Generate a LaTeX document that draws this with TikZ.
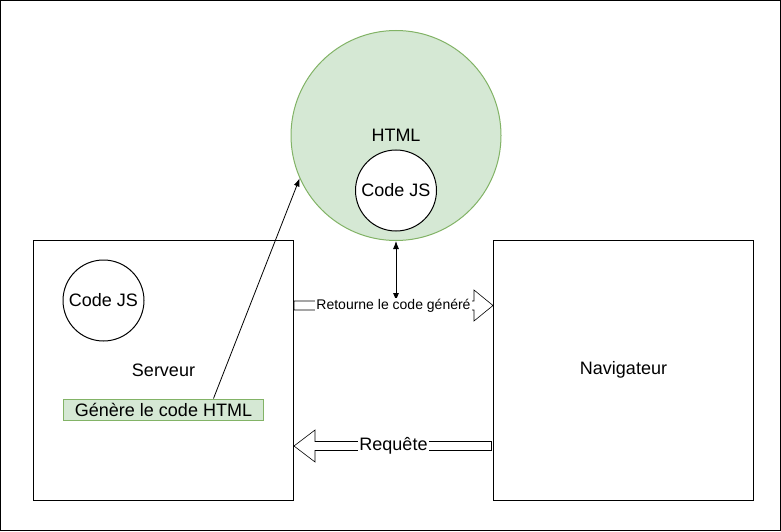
\documentclass[tikz,border=0pt]{standalone}
\usepackage{fontspec}
\setmainfont{Liberation Sans}
\usetikzlibrary{arrows.meta}
\usetikzlibrary{positioning}
\definecolor{vertfond}{HTML}{D5E8D4}
\definecolor{vertbord}{HTML}{82B366}
\tikzstyle{boite} = [rectangle, minimum width=260pt, minimum height=260pt, text centered, draw=black, line width=1pt, font=\fontsize{18}{21}\selectfont]
\tikzstyle{cercle} = [circle, minimum size=81pt, inner sep=0pt, text centered, draw=black, fill=white, line width=1pt, font=\fontsize{18}{21}\selectfont]
\tikzstyle{page} = [circle, minimum size=210pt, text centered, draw=vertbord, fill=vertfond, line width=1pt, font=\fontsize{18}{21}\selectfont]
\tikzstyle{action} = [rectangle, minimum width=200pt, minimum height=21pt, inner sep=0pt, text centered, draw=vertbord, fill=vertfond, line width=1pt, font=\fontsize{18}{21}\selectfont]
\tikzstyle{fleche} = [line width=0.8pt, >={Latex[length=8pt,width=6pt]}]
\tikzstyle{grossefleche} = [draw=black, line width=0.6pt]
\tikzstyle{etiquette} = [fill=white, inner sep=1pt]

\begin{document}
\begin{tikzpicture}[x=1pt, y=1pt, node distance=199pt]
	\useasboundingbox (0,0) rectangle (781,531);
	\draw [line width=1pt] (0.5,0.5) rectangle (780.5,530.5);

	\node (serveur) [boite] at (163.5,161) {Serveur};
	\node (navigateur) [boite, right=of serveur] {Navigateur};
	\node (html) [page] at (396,395.5) {HTML};
	\node (js_html) [cercle, above=9.5pt of html.south] {Code JS};
	\node (js_serveur) [cercle, below=20pt of serveur.north, xshift=-60pt] {Code JS};
	\node (genere) [action, below=28.5pt of serveur.center] {Génère le code HTML};

	\coordinate (retour) at ([yshift=64.5pt]serveur.east);
	\coordinate (retour_fin) at (navigateur.west |- retour);
	\coordinate (retour_haut) at ([yshift=4.5pt]retour);
	\coordinate (requete) at ([yshift=-76pt]navigateur.west);
	\coordinate (requete_fin) at (serveur.east |- requete);

	\draw [fleche, ->] ([xshift=50pt]genere.north) -- (html.204);
	\draw [fleche, <->] (html.south) -- (html.south |- retour_haut);

	\draw [grossefleche] (retour_haut) -- ([xshift=-19pt,yshift=4.5pt]retour_fin) -- ([xshift=-19pt,yshift=15.5pt]retour_fin) -- (retour_fin) -- ([xshift=-19pt,yshift=-15.5pt]retour_fin) -- ([xshift=-19pt,yshift=-4.5pt]retour_fin) -- ([yshift=-4.5pt]retour) -- cycle;
	\path (retour) -- node[etiquette, font=\fontsize{14}{16}\selectfont] {Retourne le code généré} (retour_fin);

	\draw [grossefleche] ([xshift=-1.5pt,yshift=4.5pt]requete) -- ([xshift=21pt,yshift=4.5pt]requete_fin) -- ([xshift=21pt,yshift=16pt]requete_fin) -- (requete_fin) -- ([xshift=21pt,yshift=-16pt]requete_fin) -- ([xshift=21pt,yshift=-4.5pt]requete_fin) -- ([xshift=-1.5pt,yshift=-4.5pt]requete) -- cycle;
	\path (requete_fin) -- node[etiquette, font=\fontsize{18}{21}\selectfont] {Requête} (requete);

\end{tikzpicture}
\end{document}
